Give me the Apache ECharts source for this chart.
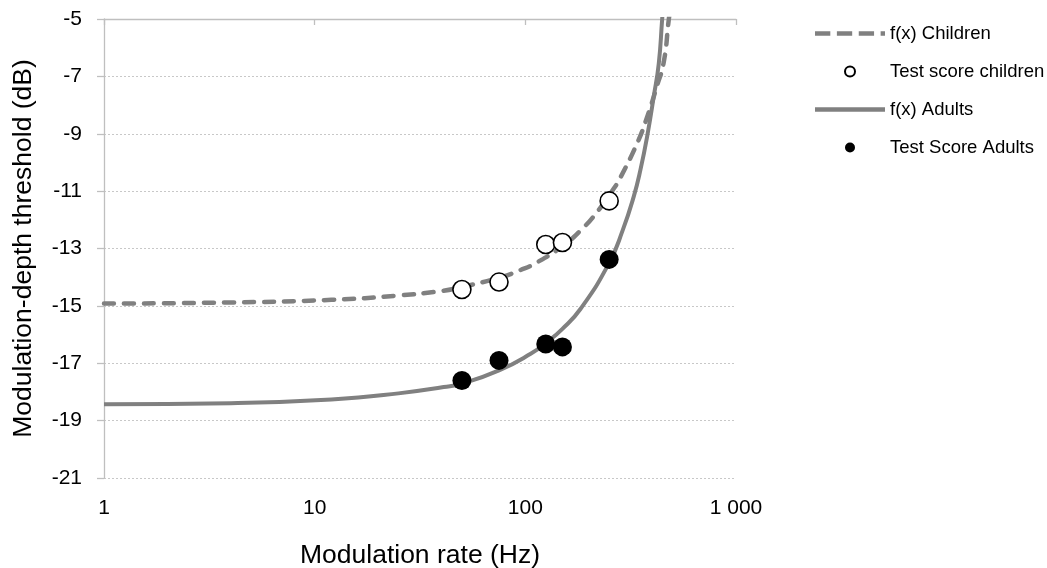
<!DOCTYPE html>
<html>
<head>
<meta charset="utf-8">
<script src="https://cdn.jsdelivr.net/npm/echarts@6/dist/echarts.min.js"></script>
<style>
html,body{margin:0;padding:0;background:#fff;}
#chart{width:1047px;height:568px;}
</style>
</head>
<body>
<div id="chart"></div>
<script>
// ---- data ----
const xTickValues = [1, 10, 100, 1000];
const xTickLabels = ['1', '10', '100', '1 000'];

// fitted curve f(x) Children (dashed)
const childCurveX = [1, 4, 12, 25, 40, 50, 75, 95, 112, 150, 183, 219, 263, 283, 340, 379, 420, 454, 480, 495];
const childCurveY = [-14.92, -14.88, -14.79, -14.64, -14.48, -14.34, -14.02, -13.75, -13.51, -12.92, -12.37, -11.73, -10.91, -10.52, -9.32, -8.41, -7.37, -6.5, -5.0, -4.3];

// fitted curve f(x) Adults (solid)
const adultCurveX = [1, 4, 12, 25, 41, 50, 75, 106, 126, 150, 183, 250, 290, 327, 352, 380, 407, 430, 446, 456];
const adultCurveY = [-18.43, -18.39, -18.26, -18.05, -17.83, -17.71, -17.25, -16.67, -16.28, -15.8, -15.1, -13.5, -12.36, -11.19, -10.25, -9.03, -7.7, -6.55, -5.02, -4.09];

// test scores
const testRates = [50, 75, 125, 150, 250];
const childScores = [-14.43, -14.17, -12.86, -12.79, -11.34];
const adultScores = [-17.6, -16.9, -16.33, -16.43, -13.38];

const pairs = (xs, ys) => xs.map((x, i) => [x, ys[i]]);

const GRAY = '#808080';
const FONT = 'Liberation Sans, Arial, sans-serif';

const chart = echarts.init(document.getElementById('chart'), null, {renderer: 'canvas'});

const option = {
  animation: false,
  backgroundColor: '#ffffff',
  grid: {left: 104, right: 311, top: 19, bottom: 90, containLabel: false, outerBoundsMode: 'none'},
  legend: {
    orient: 'vertical',
    left: 810,
    top: 19,
    padding: 5,
    itemWidth: 70,
    itemHeight: 10,
    itemGap: 19,
    textStyle: {fontFamily: FONT, fontSize: 18.5, color: '#000'},
    data: [
      {name: 'f(x) Children', icon: 'path://M0,0h14v4h-14z M20,0h14v4h-14z M40,0h14v4h-14z M60,0h4v4h-4z', itemStyle: {color: GRAY, borderWidth: 0}},
      {name: 'Test score children', icon: 'circle'},
      {name: 'f(x) Adults', icon: 'path://M0,0h64v4h-64z', itemStyle: {color: GRAY, borderWidth: 0}},
      {name: 'Test Score Adults', icon: 'circle'}
    ]
  },
  xAxis: [
    {
      type: 'log', logBase: 10, min: 1, max: 1000, position: 'top',
      axisLine: {show: true, lineStyle: {color: '#bfbfbf', width: 1.3}},
      axisTick: {show: true, inside: true, length: 6, lineStyle: {color: '#bfbfbf', width: 1.3}},
      axisLabel: {show: false},
      splitLine: {show: false},
      minorTick: {show: false}
    },
    {
      type: 'log', logBase: 10, min: 1, max: 1000, position: 'bottom',
      axisLine: {show: false}, axisTick: {show: false},
      splitLine: {show: false},
      axisLabel: {
        show: true, margin: 20, color: '#000', fontFamily: FONT, fontSize: 21,
        formatter: v => { const i = xTickValues.indexOf(Math.round(v)); return i >= 0 ? xTickLabels[i] : ''; }
      },
      name: 'Modulation rate (Hz)', nameLocation: 'middle', nameGap: 64,
      nameTextStyle: {fontFamily: FONT, fontSize: 26.5, color: '#000'}
    }
  ],
  yAxis: {
    type: 'value', min: -21, max: -5, interval: 2,
    axisLine: {show: true, lineStyle: {color: '#bfbfbf', width: 1.3}},
    axisTick: {show: true, length: 7, lineStyle: {color: '#bfbfbf', width: 1.3}},
    axisLabel: {margin: 22, color: '#000', fontFamily: FONT, fontSize: 21},
    splitLine: {show: true, lineStyle: {color: '#c8c8c8', width: 1, type: [2, 2]}},
    name: 'Modulation-depth threshold (dB)', nameLocation: 'middle', nameGap: 67, nameRotate: 90,
    nameTextStyle: {fontFamily: FONT, fontSize: 26.5, color: '#000'}
  },
  series: [
    {
      name: 'f(x) Children', type: 'line', xAxisIndex: 0, data: pairs(childCurveX, childCurveY),
      symbol: 'none', smooth: 0.5, clip: true, z: 2,
      lineStyle: {color: GRAY, width: 4.5, type: [10, 10], cap: 'round'},
      itemStyle: {color: GRAY}
    },
    {
      name: 'Test score children', type: 'scatter', xAxisIndex: 0, data: pairs(testRates, childScores),
      symbol: 'circle', symbolSize: 18, z: 4,
      itemStyle: {color: '#ffffff', borderColor: '#000000', borderWidth: 1.6, opacity: 1}
    },
    {
      name: 'f(x) Adults', type: 'line', xAxisIndex: 0, data: pairs(adultCurveX, adultCurveY),
      symbol: 'none', smooth: 0.5, clip: true, z: 3,
      lineStyle: {color: GRAY, width: 4},
      itemStyle: {color: GRAY}
    },
    {
      name: 'Test Score Adults', type: 'scatter', xAxisIndex: 0, data: pairs(testRates, adultScores),
      symbol: 'circle', symbolSize: 19, z: 5,
      itemStyle: {color: '#000000', borderColor: '#000000', borderWidth: 0, opacity: 1}
    }
  ]
};
chart.setOption(option);
</script>
</body>
</html>
